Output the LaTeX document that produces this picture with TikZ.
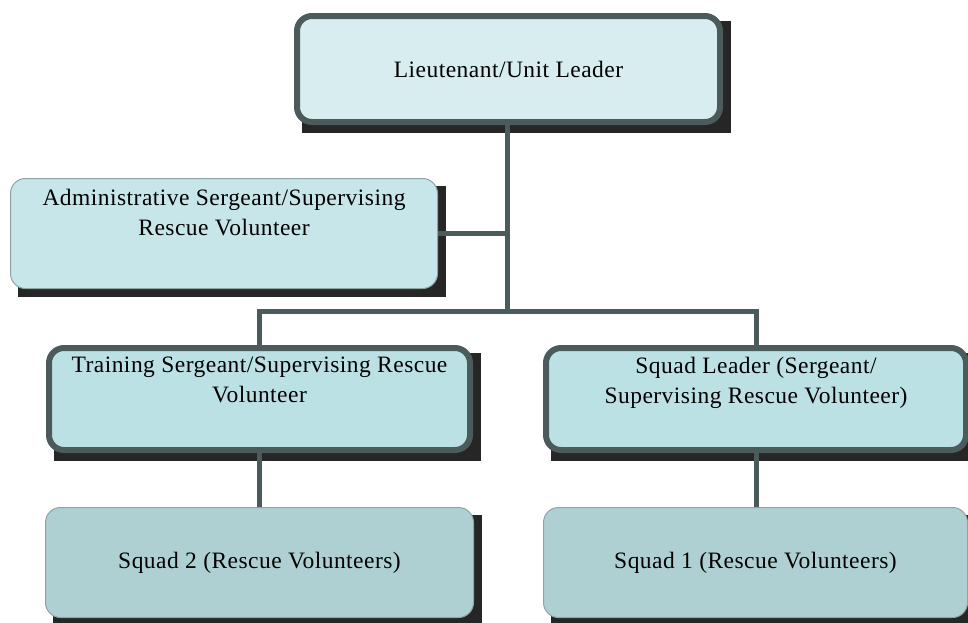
\documentclass[tikz,border=0pt]{standalone}
\usepackage{fontspec}
\setmainfont{Liberation Serif}[LetterSpace=2]
\usepackage{tikz}
\usetikzlibrary{calc}
\usetikzlibrary{positioning}
\usetikzlibrary{backgrounds}

\definecolor{linegray}{HTML}{4B5B5C}
\definecolor{thingray}{HTML}{8FA3A5}
\definecolor{topfill}{HTML}{D7EDF0}
\definecolor{adminfill}{HTML}{C7E6E9}
\definecolor{midfill}{HTML}{BCE1E4}
\definecolor{squadfill}{HTML}{AFD0D2}

\tikzset{
  orgbox/.style={rectangle, rounded corners=15pt, anchor=north west, inner sep=0pt, font=\fontsize{23.5}{30}\selectfont},
  thickbox/.style={orgbox, draw=linegray, line width=6pt},
  thinbox/.style={orgbox, draw=thingray, line width=1pt},
  boxtext/.style={anchor=north, inner sep=0pt, align=center, font=\fontsize{23.5}{30}\selectfont},
  shadowfill/.style={fill=black!85},
  conn/.style={draw=linegray, line width=5pt}
}

\begin{document}
\begin{tikzpicture}[x=1pt, y=-1pt]

\useasboundingbox (0,0) rectangle (968,622);

\node at (294,13) [thickbox, fill=topfill, minimum width=423pt, minimum height=106pt] (lieut) {Lieutenant/Unit Leader};
\node at (10,178) [thinbox, fill=adminfill, minimum width=427pt, minimum height=110pt] (admin) {};
\node at (46,345) [thickbox, fill=midfill, minimum width=421pt, minimum height=102pt] (training) {};
\node at (543,345) [thickbox, fill=midfill, minimum width=420pt, minimum height=102pt] (squadlead) {};
\node at (45,507) [thinbox, fill=squadfill, minimum width=428pt, minimum height=110pt] (squad2) {Squad 2 (Rescue Volunteers)};
\node at (543,507) [thinbox, fill=squadfill, minimum width=424pt, minimum height=110pt] (squad1) {Squad 1 (Rescue Volunteers)};

\node [boxtext, below=11pt of admin.north] (admintext) {Administrative Sergeant/Supervising\\Rescue Volunteer};
\node [boxtext, below=12pt of training.north] (trainingtext) {Training Sergeant/Supervising Rescue\\Volunteer};
\node [boxtext, below=12pt of squadlead.north] (squadleadtext) {Squad Leader (Sergeant/\\Supervising Rescue Volunteer)};

\coordinate (split) at (507,311);

\begin{scope}[on background layer]
% shadows
\foreach \n in {lieut, admin, training, squadlead, squad2, squad1}
  \fill[shadowfill] ($(\n.south west)+(8,8)$) rectangle ($(\n.north east)+(8,8)$);
% connectors
\draw[conn] (lieut.south -| split) -- (split);
\draw[conn] (admin.east) -- (admin.east -| split);
\draw[conn] (training.north) |- (split) -| (squadlead.north);
\draw[conn] (training.south) -- (training.south |- squad2.north);
\draw[conn] (squadlead.south) -- (squadlead.south |- squad1.north);
\end{scope}

\end{tikzpicture}
\end{document}
